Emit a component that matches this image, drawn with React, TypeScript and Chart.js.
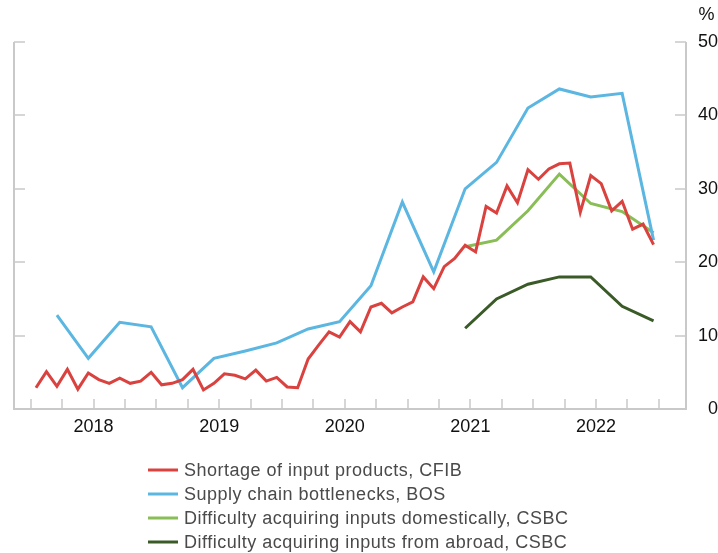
import React, { useEffect, useRef } from 'react';
import { Chart, registerables } from 'chart.js';

Chart.register(...registerables);

// Months are counted from January 2018 (0) to December 2022 (59); points sit mid-month.
const cfibShortage = [
  2.9, 5.1, 3.1, 5.4, 2.7, 4.9, 4.0, 3.5, 4.2, 3.5, 3.8, 5.0,
  3.3, 3.5, 4.0, 5.4, 2.6, 3.5, 4.8, 4.6, 4.1, 5.3, 3.8, 4.3,
  3.0, 2.9, 6.8, 8.7, 10.5, 9.8, 11.9, 10.5, 13.9, 14.4, 13.1, 13.9,
  14.6, 18.0, 16.4, 19.4, 20.5, 22.3, 21.4, 27.6, 26.7, 30.4, 28.1, 32.6,
  31.3, 32.7, 33.4, 33.5, 26.8, 31.8, 30.7, 27.0, 28.3, 24.5, 25.2, 22.4,
];

const bosMonths = [2, 5, 8, 11, 14, 17, 20, 23, 26, 29, 32, 35, 38, 41, 44, 47, 50, 53, 56, 59];
const bosBottlenecks = [12.8, 6.9, 11.8, 11.2, 2.9, 6.9, 7.9, 9.0, 10.9, 11.9, 16.8, 28.2, 18.7, 30.0, 33.6, 41.0, 43.6, 42.5, 43.0, 23.0];

const csbcMonths = [41, 44, 47, 50, 53, 56, 59];
const csbcDomestic = [22.1, 23.0, 27.0, 32.0, 28.0, 26.9, 24.0];
const csbcAbroad = [11.0, 15.0, 17.0, 18.0, 18.0, 14.0, 12.0];

const seriesNames = [
  'Shortage of input products, CFIB',
  'Supply chain bottlenecks, BOS',
  'Difficulty acquiring inputs domestically, CSBC',
  'Difficulty acquiring inputs from abroad, CSBC',
];
const seriesColors = ['#d9423e', '#5bb6e1', '#89bd55', '#3a5a28'];

const quarterTicks = [0, 3, 6, 9, 12, 15, 18, 21, 24, 27, 30, 33, 36, 39, 42, 45, 48, 51, 54, 57, 60];
const yearTickMonths = [6, 18, 30, 42, 54];
const yearLabels = ['2018', '2019', '2020', '2021', '2022'];
const yTicks = [0, 10, 20, 30, 40, 50];
const yUnit = '%';

const FONT = '"Liberation Sans", Arial, Helvetica, sans-serif';
const AXIS_COLOR = '#c9c9c9';

const axesPlugin = {
  id: 'customAxes',
  beforeDatasetsDraw(chart: any) {
    const { ctx, chartArea: a, scales } = chart;
    const xs = scales.x;
    const ys = scales.y;
    ctx.save();
    ctx.strokeStyle = AXIS_COLOR;
    ctx.lineWidth = 1.5;
    ctx.beginPath();
    yTicks.forEach((v) => {
      const py = Math.round(ys.getPixelForValue(v));
      ctx.moveTo(a.left, py);
      ctx.lineTo(a.left + 11, py);
      ctx.moveTo(a.right, py);
      ctx.lineTo(a.right - 11, py);
    });
    quarterTicks.forEach((m) => {
      const px = Math.round(xs.getPixelForValue(m));
      ctx.moveTo(px, a.bottom);
      ctx.lineTo(px, a.bottom - 10);
    });
    ctx.stroke();
    ctx.lineWidth = 2;
    ctx.beginPath();
    ctx.moveTo(a.left, a.top);
    ctx.lineTo(a.left, a.bottom);
    ctx.lineTo(a.right, a.bottom);
    ctx.lineTo(a.right, a.top);
    ctx.stroke();
    // unit label
    ctx.fillStyle = '#111';
    ctx.font = `18px ${FONT}`;
    ctx.textAlign = 'right';
    ctx.textBaseline = 'middle';
    ctx.fillText(yUnit, 714.5, 15);
    ctx.restore();
  },
};

const legendPlugin = {
  id: 'stackedLegend',
  afterDraw(chart: any) {
    const { ctx } = chart;
    ctx.save();
    ctx.font = `18px ${FONT}`;
    ctx.textBaseline = 'middle';
    ctx.textAlign = 'left';
    try {
      (ctx as any).letterSpacing = '0.5px';
    } catch (e) {
      /* ignore */
    }
    chart.data.datasets.forEach((ds: any, i: number) => {
      const yy = 470 + i * 24;
      ctx.strokeStyle = ds.borderColor;
      ctx.lineWidth = 3;
      ctx.beginPath();
      ctx.moveTo(148, yy);
      ctx.lineTo(178, yy);
      ctx.stroke();
      ctx.fillStyle = '#4a4a4a';
      ctx.fillText(ds.label, 184, yy + 1);
    });
    ctx.restore();
  },
};

export default function App() {
  const canvasRef = useRef<HTMLCanvasElement | null>(null);

  useEffect(() => {
    if (!canvasRef.current) return;
    const toPoints = (months: number[], vals: number[]) =>
      vals.map((v, i) => ({ x: months[i] + 0.5, y: v }));
    const cfibMonths = cfibShortage.map((_, i) => i);

    const datasets = [
      toPoints(cfibMonths, cfibShortage),
      toPoints(bosMonths, bosBottlenecks),
      toPoints(csbcMonths, csbcDomestic),
      toPoints(csbcMonths, csbcAbroad),
    ].map((data, i) => ({
      label: seriesNames[i],
      data,
      borderColor: seriesColors[i],
      backgroundColor: seriesColors[i],
      borderWidth: 3,
      pointRadius: 0,
      pointHoverRadius: 0,
      tension: 0,
      fill: false,
    }));

    const chart = new Chart(canvasRef.current, {
      type: 'line',
      data: { datasets },
      plugins: [axesPlugin, legendPlugin],
      options: {
        responsive: false,
        animation: false,
        devicePixelRatio: 1,
        layout: { padding: { left: 14, top: 42, right: 0, bottom: 110 } },
        plugins: {
          legend: { display: false },
          tooltip: { enabled: false },
          title: { display: false },
        },
        scales: {
          x: {
            type: 'linear',
            min: -1.6,
            max: 62.6,
            grid: { display: false, drawTicks: false },
            border: { display: false },
            afterBuildTicks: (scale: any) => {
              scale.ticks = quarterTicks.map((v) => ({ value: v }));
            },
            afterFit: (scale: any) => {
              scale.height = 34;
              scale.paddingLeft = 0;
              scale.paddingRight = 0;
            },
            ticks: {
              autoSkip: false,
              maxRotation: 0,
              minRotation: 0,
              padding: 7,
              color: '#111',
              font: { family: FONT, size: 18 },
              callback: (value: any) => {
                const k = yearTickMonths.indexOf(Number(value));
                return k >= 0 ? yearLabels[k] : '';
              },
            },
          },
          y: {
            type: 'linear',
            position: 'right',
            min: 0,
            max: 50,
            grid: { display: false, drawTicks: false },
            border: { display: false },
            afterBuildTicks: (scale: any) => {
              scale.ticks = yTicks.map((v) => ({ value: v }));
            },
            afterFit: (scale: any) => {
              scale.width = 32;
              scale.paddingTop = 0;
              scale.paddingBottom = 0;
            },
            ticks: {
              crossAlign: 'far',
              padding: 8,
              color: '#111',
              font: { family: FONT, size: 18 },
            },
          },
        },
      },
    } as any);

    return () => chart.destroy();
  }, []);

  return (
    <div style={{ position: 'absolute', left: 0, top: 0, width: 718, height: 553, background: '#fff' }}>
      <canvas ref={canvasRef} width={718} height={553} style={{ display: 'block' }} />
    </div>
  );
}
